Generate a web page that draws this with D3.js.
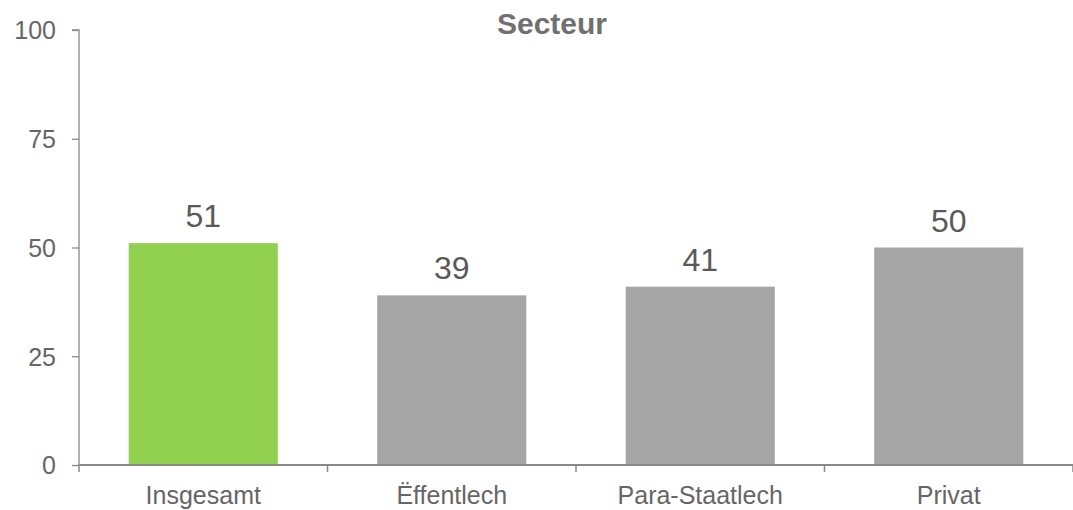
<!DOCTYPE html>
<html><head><meta charset="utf-8">
<script src="https://cdn.jsdelivr.net/npm/d3@7"></script>
<style>body{margin:0;background:#fff}svg{display:block}svg text{font-family:"Liberation Sans",Arial,sans-serif}</style>
</head><body>
<svg id="c" width="1073" height="510"></svg>
<script>
const categories = ["Insgesamt","Ëffentlech","Para-Staatlech","Privat"];
const values = [51,39,41,50];
const colors = ["#92D050","#A6A6A6","#A6A6A6","#A6A6A6"];
const yTicks = [0,25,50,75,100];
const title = "Secteur";

(function(){
const svg = d3.select("#c");
const mLeft = 79, mRight = 1073, mTop = 30, mBottom = 465;
const x = d3.scaleBand().domain(categories).range([mLeft,mRight]).paddingInner(0.4).paddingOuter(0.2);
const y = d3.scaleLinear().domain([0,100]).range([mBottom,mTop]);
const axisColor = "#898989", textColor = "#666666";

svg.selectAll("rect.bar").data(values).join("rect")
  .attr("class","bar")
  .attr("x",(d,i)=>x(categories[i]))
  .attr("width",x.bandwidth())
  .attr("y",d=>y(d))
  .attr("height",d=>mBottom-y(d))
  .attr("fill",(d,i)=>colors[i]);

svg.selectAll("text.val").data(values).join("text")
  .attr("class","val")
  .attr("x",(d,i)=>x(categories[i])+x.bandwidth()/2)
  .attr("y",d=>y(d)-16)
  .attr("text-anchor","middle")
  .attr("font-size",32)
  .attr("fill","#595959")
  .text(d=>d);

const yAxis = svg.append("g").attr("transform",`translate(${mLeft},0)`)
  .call(d3.axisLeft(y).tickValues(yTicks).tickSize(7).tickPadding(16));
yAxis.selectAll("path,line").attr("stroke",axisColor).attr("stroke-width",1.3);
yAxis.select(".domain").attr("d",`M-7,${mTop}H0V${mBottom}`);
yAxis.selectAll("text").attr("font-size",25).attr("fill",textColor).attr("dy","0.35em");

const bounds = d3.range(categories.length+1).map(i=>mLeft + i*x.step());
const xg = svg.append("g");
xg.append("line").attr("x1",mLeft).attr("x2",mRight).attr("y1",mBottom).attr("y2",mBottom)
  .attr("stroke",axisColor).attr("stroke-width",2);
xg.selectAll("line.t").data(bounds).join("line").attr("class","t")
  .attr("x1",d=>d).attr("x2",d=>d).attr("y1",mBottom).attr("y2",mBottom+7)
  .attr("stroke",axisColor).attr("stroke-width",1.5);
xg.selectAll("text").data(categories).join("text")
  .attr("x",d=>x(d)+x.bandwidth()/2).attr("y",mBottom+39)
  .attr("text-anchor","middle").attr("font-size",25).attr("fill",textColor).text(d=>d);

svg.append("text").attr("x",552).attr("y",34).attr("text-anchor","middle")
  .attr("font-size",30).attr("font-weight","bold").attr("fill","#707070").text(title);
})();
</script>
</body></html>
